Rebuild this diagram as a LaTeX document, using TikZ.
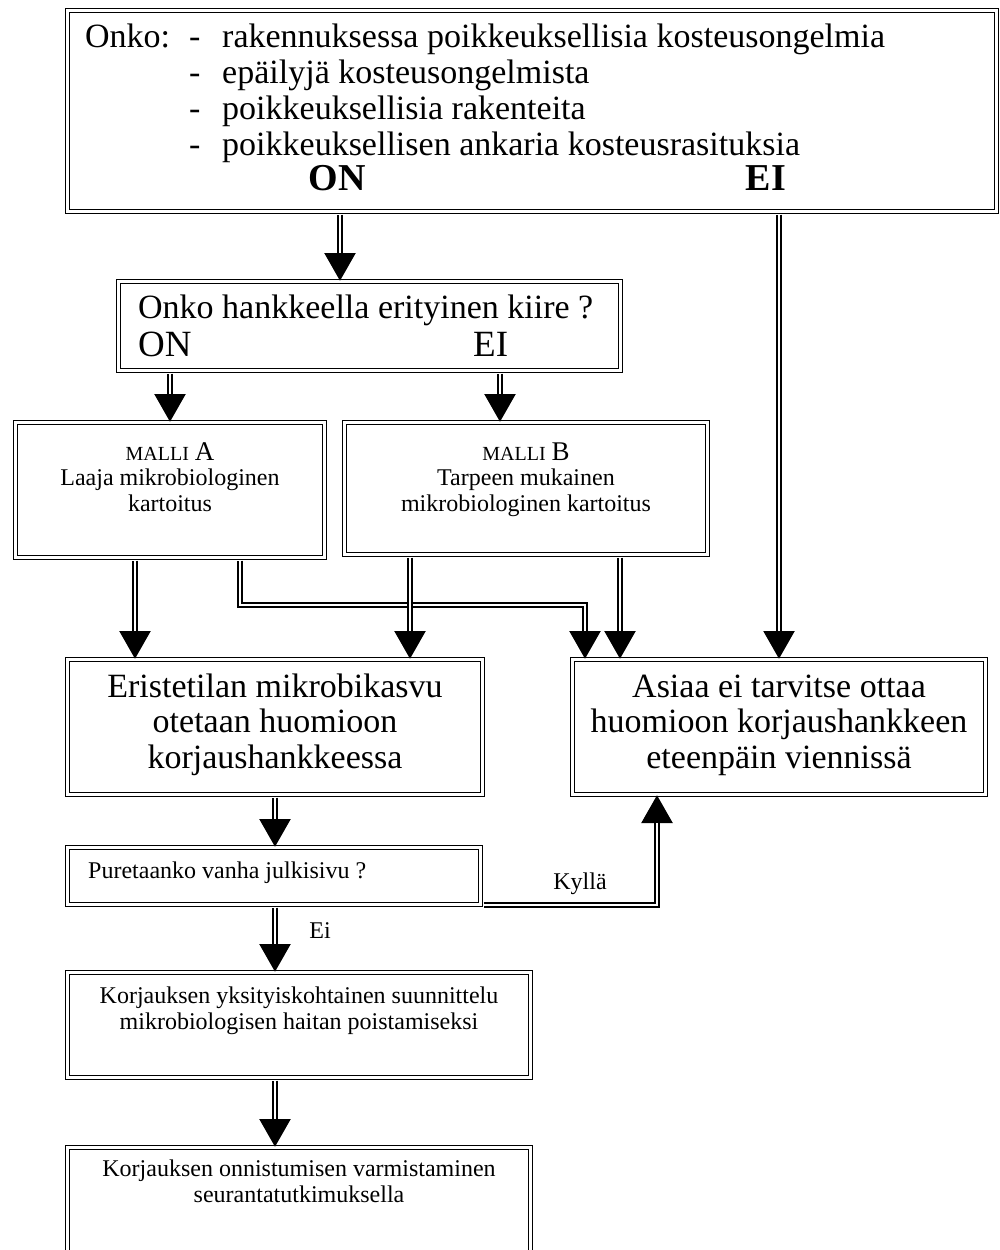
\documentclass[tikz,border=0pt]{standalone}
\usepackage{fontspec}
\setmainfont{Liberation Serif}
\usetikzlibrary{arrows.meta}

\begin{document}
\begin{tikzpicture}[x=1pt,y=-1pt,
  dbox/.style={draw,double,double distance=3pt,line width=1pt,inner sep=0pt},
  dblarrow/.style={line width=5.5pt,-{Triangle[length=28pt,width=30pt]},shorten <=2.5pt,
    postaction={draw=white,line width=2.5pt,-,shorten <=2.5pt,shorten >=28pt}},
  txt/.style={inner sep=0pt},
  big/.style={txt,font=\fontsize{34}{35.5}\selectfont},
  small/.style={txt,font=\fontsize{24}{25.5}\selectfont}]
\useasboundingbox (0,0) rectangle (1000,1250);
% boxes
\node[dbox,minimum width=929pt,minimum height=201pt] (onko) at (532,111) {};
\node[dbox,minimum width=502pt,minimum height=89pt] (kiire) at (369.5,326) {};
\node[dbox,minimum width=309pt,minimum height=135pt] (malliA) at (170,490) {};
\node[dbox,minimum width=363pt,minimum height=132pt] (malliB) at (526,488.5) {};
\node[dbox,minimum width=415pt,minimum height=135pt] (eriste) at (275,727) {};
\node[dbox,minimum width=413pt,minimum height=135pt] (asiaa) at (779,727) {};
\node[dbox,minimum width=413pt,minimum height=57pt] (puret) at (274,876) {};
\node[dbox,minimum width=463pt,minimum height=105pt] (korj) at (299,1025) {};
\node[dbox,minimum width=463pt,minimum height=150pt] (seur) at (299,1222.5) {};
% texts
\node[big,anchor=base west] (onkoLbl) at (85,47) {Onko:};
\foreach \i/\txt in {0/rakennuksessa poikkeuksellisia kosteusongelmia,
  1/epäilyjä kosteusongelmista,2/poikkeuksellisia rakenteita,
  3/poikkeuksellisen ankaria kosteusrasituksia}{
  \node[big,anchor=base west] (dash\i) at (189,47+36*\i) {-};
  \node[big,anchor=base west] (item\i) at (222,47+36*\i) {\txt};
}
\node[txt,anchor=base,font=\fontsize{38}{38}\selectfont\bfseries] (onkoOn) at (337,190) {ON};
\node[txt,anchor=base,font=\fontsize{38}{38}\selectfont\bfseries] (onkoEi) at (766,190) {EI};
\node[big,anchor=base west] (kiireTxt) at (138,318) {Onko hankkeella erityinen kiire ?};
\node[txt,anchor=base west,font=\fontsize{37}{37}\selectfont] (kiireOn) at (138,356) {ON};
\node[txt,anchor=base west,font=\fontsize{37}{37}\selectfont] (kiireEi) at (473,356) {EI};
\node[small,anchor=base,align=center] (malliAtxt) at (170,511)
  {{\fontsize{20}{20}\selectfont MALLI} {\fontsize{27}{26}\selectfont A}\\Laaja mikrobiologinen\\kartoitus};
\node[small,anchor=base,align=center] (malliBtxt) at (526,511)
  {{\fontsize{20}{20}\selectfont MALLI} {\fontsize{27}{26}\selectfont B}\\Tarpeen mukainen\\mikrobiologinen kartoitus};
\node[big,anchor=base,align=center] (eristeTxt) at (275,768)
  {Eristetilan mikrobikasvu\\otetaan huomioon\\korjaushankkeessa};
\node[big,anchor=base,align=center] (asiaaTxt) at (779,768)
  {Asiaa ei tarvitse ottaa\\huomioon korjaushankkeen\\eteenpäin viennissä};
\node[small,anchor=base west] (puretTxt) at (88,878) {Puretaanko vanha julkisivu ?};
\node[small,anchor=base] (kylla) at (580,889) {Kyllä};
\node[small,anchor=base] (ei) at (320,938) {Ei};
\node[small,anchor=base,align=center] (korjTxt) at (299,1029)
  {Korjauksen yksityiskohtainen suunnittelu\\mikrobiologisen haitan poistamiseksi};
\node[small,anchor=base,align=center] (seurTxt) at (299,1202)
  {Korjauksen onnistumisen varmistaminen\\seurantatutkimuksella};
% arrow columns
\coordinate (cOn) at (340,0);
\coordinate (cEi) at (779,0);
\coordinate (cKon) at (170,0);
\coordinate (cKei) at (500,0);
\coordinate (cA1) at (135,0);
\coordinate (cA2) at (240,605);
\coordinate (cA3) at (585,605);
\coordinate (cB1) at (410,0);
\coordinate (cB2) at (620,0);
\coordinate (cMid) at (275,0);
\coordinate (cKy) at (657,0);
% connectors
\draw[dblarrow] (onko.south -| cOn) -- (kiire.north -| cOn);
\draw[dblarrow] (onko.south -| cEi) -- (asiaa.north -| cEi);
\draw[dblarrow] (kiire.south -| cKon) -- (malliA.north -| cKon);
\draw[dblarrow] (kiire.south -| cKei) -- (malliB.north -| cKei);
\draw[dblarrow] (malliA.south -| cA1) -- (eriste.north -| cA1);
\draw[dblarrow] (malliA.south -| cA2) -- (cA2) -- (cA3) -- (asiaa.north -| cA3);
\draw[dblarrow] (malliB.south -| cB1) -- (eriste.north -| cB1);
\draw[dblarrow] (malliB.south -| cB2) -- (asiaa.north -| cB2);
\draw[dblarrow] (eriste.south -| cMid) -- (puret.north -| cMid);
\draw[dblarrow] (puret.south east) -- (puret.south east -| cKy) -- (asiaa.south -| cKy);
\draw[dblarrow] (puret.south -| cMid) -- (korj.north -| cMid);
\draw[dblarrow] (korj.south -| cMid) -- (seur.north -| cMid);
\end{tikzpicture}
\end{document}
